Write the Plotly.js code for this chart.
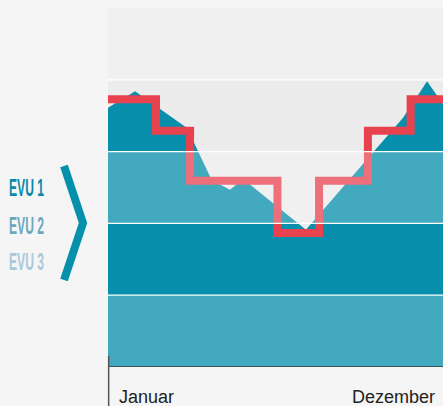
<!DOCTYPE html>
<html>
<head>
<meta charset="utf-8">
<script src="https://cdn.plot.ly/plotly-3.0.1.min.js"></script>
<style>
  html, body { margin: 0; padding: 0; background: #f5f5f5; }
  #chart { width: 443px; height: 406px; }
</style>
</head>
<body>
<div id="chart"></div>
<script>
// Year position in months (0 = Januar, 12 = Dezember)
const areaX = [0, 0.97, 2.83, 3.72, 4.37, 4.84, 7.09, 10.57, 11.43, 12];
const areaY = [3.61, 3.84, 3.33, 2.60, 2.47, 2.62, 1.91, 3.47, 3.98, 3.66];

const stepX = [0, 1.72, 2.94, 6.07, 7.56, 9.31, 10.84, 12];
const stepY = [3.73, 3.29, 2.595, 1.866, 2.595, 3.29, 3.73, 3.73];

const legendLabels = ['EVU 1', 'EVU 2', 'EVU 3'];
const legendColors = ['#0a8aa8', '#6aa8c0', '#a9c9da'];
const axisLabels = ['Januar', 'Dezember'];
const bands = [0, 1, 2, 3, 4, 5];

const traces = [
  {
    x: areaX, y: areaY, type: 'scatter', mode: 'lines',
    fill: 'tozeroy', fillcolor: '#078fab',
    line: { width: 0, color: '#078fab' }, hoverinfo: 'skip'
  },
  {
    x: stepX, y: stepY, type: 'scatter', mode: 'lines',
    line: { shape: 'hv', width: 8, color: '#e8424f' }, hoverinfo: 'skip'
  }
];

const shapes = [];
// lighter overlay bands (alternating)
for (let i = 0; i < bands.length - 1; i += 2) {
  shapes.push({
    type: 'rect', xref: 'paper', yref: 'y', x0: 0, x1: 1,
    y0: bands[i], y1: bands[i + 1], fillcolor: 'rgba(255,255,255,0.24)',
    line: { width: 0 }, layer: 'above'
  });
}
// white grid lines
for (let i = 1; i < bands.length - 1; i++) {
  shapes.push({
    type: 'line', xref: 'paper', yref: 'y', x0: 0, x1: 1,
    y0: bands[i], y1: bands[i], line: { color: '#ffffff', width: 1.3 }, layer: 'above'
  });
}
// bottom axis line
shapes.push({
  type: 'line', xref: 'paper', yref: 'y', x0: 0, x1: 1, y0: 0, y1: 0,
  line: { color: '#3a3a3a', width: 1.5 }, layer: 'above'
});
// vertical tick at start
shapes.push({
  type: 'line', xref: 'paper', yref: 'paper', x0: 0.002, x1: 0.002, y0: 0.0306, y1: -0.12,
  line: { color: '#555555', width: 1.5 }, layer: 'above'
});
// chevron
shapes.push({
  type: 'path', xref: 'paper', yref: 'paper',
  path: 'M -0.1313 0.5599 L -0.0746 0.4011 L -0.1313 0.2423',
  line: { color: '#0590ab', width: 8 }, layer: 'above'
});

const annotations = [];
const legendY = [0.5, 0.3955, 0.2925];
legendLabels.forEach((t, i) => {
  annotations.push({
    text: '<b>' + t + '</b>', xref: 'paper', yref: 'paper', x: -0.2955, y: legendY[i],
    xanchor: 'left', yanchor: 'middle', align: 'left', showarrow: false,
    font: { family: 'Liberation Sans Narrow, Liberation Sans, sans-serif', size: 24, color: legendColors[i] }
  });
});
annotations.push({
  text: axisLabels[0], xref: 'x', yref: 'paper', x: 0, y: -0.0836, xshift: 9,
  xanchor: 'left', yanchor: 'middle', showarrow: false,
  font: { family: 'Liberation Sans, Arial, sans-serif', size: 18, color: '#222222' }
});
annotations.push({
  text: axisLabels[1], xref: 'x', yref: 'paper', x: 12, y: -0.0836, xshift: -6,
  xanchor: 'right', yanchor: 'middle', showarrow: false,
  font: { family: 'Liberation Sans, Arial, sans-serif', size: 18, color: '#222222' }
});

const layout = {
  width: 443, height: 406,
  margin: { l: 108, r: 0, t: 8, b: 39, pad: 0 },
  paper_bgcolor: '#f5f5f5', plot_bgcolor: '#ececec',
  showlegend: false,
  xaxis: { range: [0, 12], showgrid: false, zeroline: false, showticklabels: false, showline: false, ticks: '', fixedrange: true },
  yaxis: { range: [0, 5], showgrid: false, zeroline: false, showticklabels: false, showline: false, ticks: '', fixedrange: true },
  shapes: shapes, annotations: annotations
};

Plotly.newPlot('chart', traces, layout, { staticPlot: true, displayModeBar: false }).then(() => {
  document.querySelectorAll('.annotation-text').forEach(el => {
    if (el.textContent.indexOf('EVU') === 0) {
      el.setAttribute('text-anchor', 'start');
      el.setAttribute('x', '0');
      el.querySelectorAll('tspan').forEach(ts => ts.removeAttribute('x'));
      el.setAttribute('textLength', '35');
      el.setAttribute('lengthAdjust', 'spacingAndGlyphs');
    }
  });
});
</script>
</body>
</html>
